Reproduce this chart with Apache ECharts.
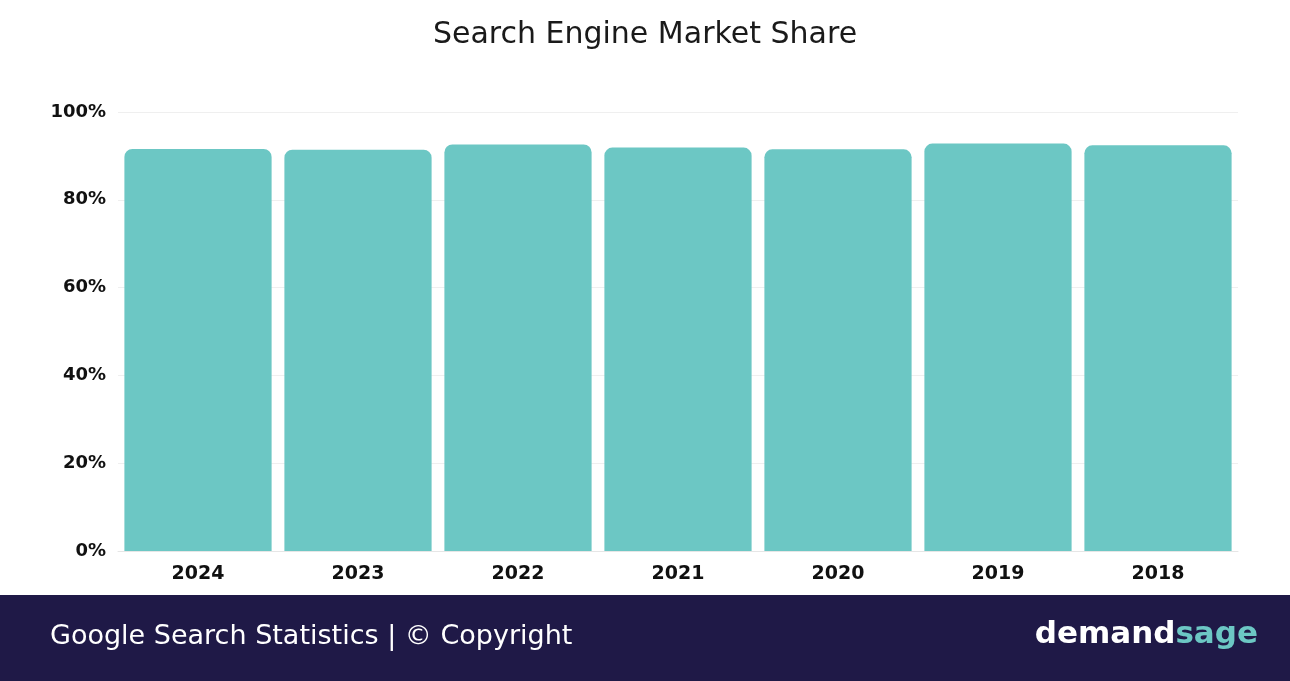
<!DOCTYPE html>
<html>
<head>
<meta charset="utf-8">
<style>
html,body{margin:0;padding:0;background:#fff;}
#chart{width:1290px;height:681px;}
</style>
<script src="https://cdn.jsdelivr.net/npm/echarts@6/dist/echarts.min.js"></script>
</head>
<body>
<div id="chart"></div>
<script>
var categories = ['2024', '2023', '2022', '2021', '2020', '2019', '2018'];
var shareValues = [91.6, 91.4, 92.6, 91.9, 91.5, 92.8, 92.4];
var yTicks = [0, 20, 40, 60, 80, 100];

var chart = echarts.init(document.getElementById('chart'), null, {renderer: 'canvas'});
chart.setOption({
  animation: false,
  backgroundColor: '#ffffff',
  title: {
    text: 'Search Engine Market Share',
    left: 'center',
    top: 15,
    textStyle: {fontFamily: 'DejaVu Sans', fontSize: 30, fontWeight: 'normal', color: '#1a1a1a'}
  },
  grid: {left: 118, right: 52, top: 112, bottom: 130},
  xAxis: {
    type: 'category',
    data: categories,
    axisLine: {show: true, lineStyle: {color: '#e6e6e6', width: 1}},
    axisTick: {show: false},
    axisLabel: {fontFamily: 'DejaVu Sans', fontSize: 19, fontWeight: 'bold', color: '#111', margin: 14}
  },
  yAxis: {
    type: 'value',
    min: 0, max: 100, interval: 20,
    axisLine: {show: false},
    axisTick: {show: false},
    splitLine: {lineStyle: {color: '#efefef', width: 1}},
    axisLabel: {
      fontFamily: 'DejaVu Sans', fontSize: 18, fontWeight: 'bold', color: '#111', margin: 12,
      formatter: function (v) { return yTicks.indexOf(v) >= 0 ? v + '%' : ''; }
    }
  },
  series: [{
    type: 'bar',
    data: shareValues,
    barCategoryGap: '8%',
    itemStyle: {color: '#6cc7c4', borderRadius: [8, 8, 0, 0]}
  }],
  graphic: [
    {type: 'rect', left: 0, top: 595, shape: {width: 1290, height: 86}, style: {fill: '#1f1947'}, z: 0},
    {type: 'text', left: 50, top: 623, style: {text: 'Google Search Statistics | © Copyright', fill: '#ffffff', font: 'normal 27px "DejaVu Sans"'}},
    {type: 'text', right: 32, top: 619, style: {
      rich: {a: {fill: '#ffffff', font: 'bold 31px "DejaVu Sans"'}, b: {fill: '#6cc7c4', font: 'bold 31px "DejaVu Sans"'}},
      text: '{a|demand}{b|sage}'
    }}
  ]
});
</script>
</body>
</html>
